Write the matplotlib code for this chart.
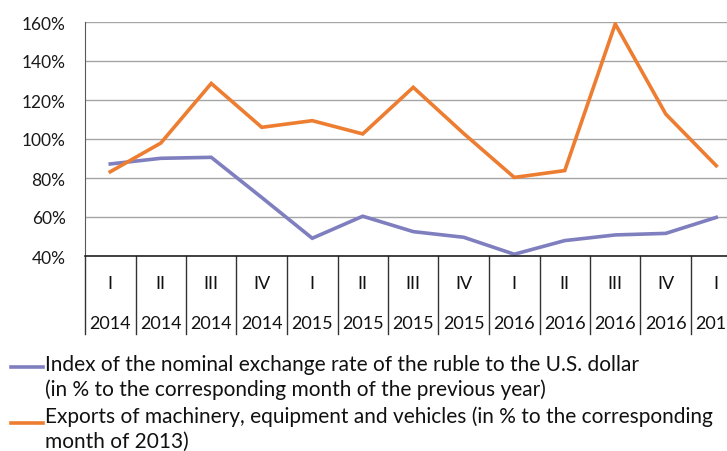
import matplotlib
matplotlib.use("Agg")
import matplotlib.pyplot as plt
import matplotlib.transforms as mtransforms

quarters = ["I", "II", "III", "IV", "I", "II", "III", "IV", "I", "II", "III", "IV", "I"]
years = ["2014", "2014", "2014", "2014", "2015", "2015", "2015", "2015",
         "2016", "2016", "2016", "2016", "2017"]
ruble_index = [87.2, 90.1, 90.6, 70.0, 49.1, 60.4, 52.5, 49.6, 40.9, 47.9, 50.8, 51.6, 59.8]
exports = [83.2, 97.9, 128.5, 106.0, 109.4, 102.6, 126.5, 102.8, 80.3, 83.8, 159.0, 112.8, 86.3]

label_ruble = ["Index of the nominal exchange rate of the ruble to the U.S. dollar",
               "(in % to the corresponding month of the previous year)"]
label_exports = ["Exports of machinery, equipment and vehicles (in % to the corresponding",
                 "month of 2013)"]

plt.rcParams["font.family"] = ["Lato", "DejaVu Sans"]

W, H = 727, 452
fig = plt.figure(figsize=(W / 100, H / 100), dpi=100)
# plot area: x from 85 px, 50.5 px per category (last one runs off the figure)
left, top, bottom = 85, 23, 257
ax = fig.add_axes([left / W, 1 - bottom / H, 13 * 50.5 / W, (bottom - top) / H])

x = [i + 0.5 for i in range(len(quarters))]
ax.plot(x, ruble_index, color="#7F7FC0", lw=2.6, solid_joinstyle="miter")
ax.plot(x, exports, color="#ED7D31", lw=2.6, solid_joinstyle="miter")

ax.set_xlim(0, 13)
ax.set_ylim(40, 160)
ax.set_yticks(range(40, 161, 20))
ax.set_yticklabels([f"{v}%" for v in range(40, 161, 20)], fontsize=12.5, color="#1a1a1a")
ax.tick_params(axis="y", length=0, pad=14)
ax.yaxis.grid(True, color="#A6A6A6", lw=1)
ax.set_axisbelow(True)

for s in ["top", "right"]:
    ax.spines[s].set_visible(False)
ax.spines["left"].set_color("#595959")
ax.spines["bottom"].set_color("#222222")
ax.spines["bottom"].set_linewidth(1.2)

# two-level category axis drawn as a small table under the plot
ax.set_xticks([])
trans = mtransforms.blended_transform_factory(ax.transData, ax.transAxes)
px = 1 / (bottom - top)
for b in range(14):
    ax.plot([b, b], [0, -78 * px], transform=trans, color="#333333", lw=1, clip_on=False)
for i in range(len(quarters)):
    ax.text(i + 0.5, -27 * px, quarters[i], transform=trans, ha="center", va="center",
            fontsize=13, color="#111111", clip_on=False)
    ax.text(i + 0.5, -67 * px, years[i], transform=trans, ha="center", va="center",
            fontsize=13, color="#111111", clip_on=False)

# legend (baselines)
for y0, color, lines, bases in [(368, "#7F7FC0", label_ruble, (371, 396)),
                                (424, "#ED7D31", label_exports, (423, 448))]:
    fig.add_artist(plt.Line2D([11 / W, 43 / W], [1 - y0 / H, 1 - y0 / H], color=color, lw=2.6))
    for txt, yb in zip(lines, bases):
        fig.text(45 / W, 1 - yb / H, txt, ha="left", va="baseline",
                 fontsize=15, color="#111111")

fig.savefig("out.png", dpi=100)
